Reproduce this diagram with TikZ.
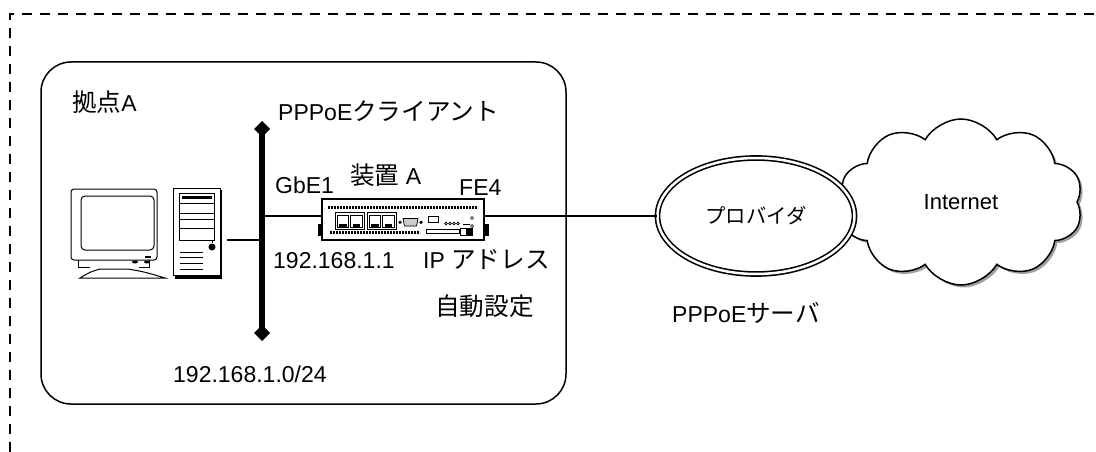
\documentclass[tikz,border=0pt]{standalone}
\usepackage{fontspec}
\setmainfont{Liberation Sans}
\newfontfamily\jp[Scale=1.07]{Noto Sans CJK JP}
\usetikzlibrary{arrows.meta,shapes.geometric,shapes.symbols,shadows}
\begin{document}
\begin{tikzpicture}[x=1pt,y=-1pt,
  lbl/.style={anchor=base west, inner sep=0pt, font=\fontsize{23}{27}\selectfont},
  outerframe/.style={line width=1.3pt, dash pattern=on 10pt off 8pt},
  site/.style={draw, line width=1.5pt, rounded corners=30pt},
  wire/.style={line width=1.3pt},
  lanbus/.style={line width=6pt, {Diamond[length=16pt,width=16pt]}-{Diamond[length=16pt,width=16pt]}},
  part/.style={line width=1pt},
  thinpart/.style={line width=0.7pt},
  dotrow/.style={line width=3.5pt, dash pattern=on 2pt off 1pt},
]
\useasboundingbox (0,0) rectangle (1096,452);

% outer dashed frame (only top and left edges fall inside the page)
\draw[outerframe] (10,452) -- (10,14) -- (1096,14);

% site A
\draw[site] (41,62) rectangle (566,404);
\node[lbl] (siteA) at (72,112) {{\jp 拠点}A};

% LAN segment
\coordinate (bustop) at (262,121);
\coordinate (busbot) at (262,341);
\coordinate (buspc) at (262,240);
\coordinate (busdev) at (262,216);
\draw[lanbus] (bustop) -- (busbot);

% PC: monitor
\begin{scope}[part]
  \draw[rounded corners=3pt] (71,189) rectangle (157,260);
  \draw[rounded corners=4pt] (81,196) rectangle (154,250);
  \draw (78,260) -- (78,267) -- (90,267);
  \draw (149,260) -- (149,267) -- (139,267);
  \draw (80,278) .. controls (90,272) .. (100,269) -- (128,269) .. controls (145,272) .. (165,278) -- cycle;
  \fill (145,256) rectangle (151,258);
  \fill (135,262) ellipse (3pt and 1.5pt);
  \fill (147,262) ellipse (3pt and 1.5pt);
\end{scope}
% PC: tower
\begin{scope}[part]
  \draw (173,188) rectangle (220,275);
  \fill (175,275) rectangle (222,279);
  \fill (220,190) rectangle (222,279);
  \draw (179,193) rectangle (214,240);
  \fill (182,196) rectangle (212,199);
  \draw (179,203) -- (214,203);
  \draw (179,213) -- (214,213);
  \draw (179,219) -- (214,219);
  \draw (179,228) -- (214,228);
  \fill (212,247) circle (3.5pt);
  \draw (212,241) -- (212,243);
  \foreach \vy in {252,257,263,269} \draw (180,\vy) -- (203,\vy);
\end{scope}
\node[inner sep=0pt, minimum width=157pt, minimum height=91pt] (pc) at (146,233.5) {};
\coordinate (pcport) at (227,240);
\draw[wire] (pcport) -- (buspc);

% device A
\node[draw, line width=2pt, inner sep=0pt, minimum width=162pt, minimum height=41pt] (dev) at (403,219.5) {};
\begin{scope}
  \fill (317.5,224) rectangle (322,236);
  \fill (484,224) rectangle (488.5,236);
  \draw[dotrow] (328,207.5) -- (478,207.5);
  \draw[dotrow] (330,232.5) -- (420,232.5);
  % two dual RJ45 blocks
  \foreach \bx in {335,367} {
    \draw[thinpart] (\bx,212.5) rectangle (\bx+29,229);
    \draw[thinpart] (\bx+2,215.5) rectangle (\bx+13.5,227.5);
    \draw[thinpart] (\bx+15.5,215.5) rectangle (\bx+27,227.5);
    \fill (\bx+4,224) rectangle (\bx+11.5,228);
    \fill (\bx+17.5,224) rectangle (\bx+25,228);
  }
  % serial port
  \draw[thinpart, fill=gray!40] (403,218.5) -- (418,218.5) -- (416.5,226) -- (404.5,226) -- cycle;
  \fill (400,222.3) circle (1.8pt);
  \fill (421,222.3) circle (1.8pt);
  % status area
  \draw[thinpart] (428,216) rectangle (438,222);
  \foreach \lx in {446,450,454,458} \draw[thinpart] (\lx,223.5) circle (1.3pt);
  \draw[thinpart] (426,229) rectangle (459,233);
  \draw[thinpart] (460,228) rectangle (472,235);
  \fill (466,228) rectangle (472,235);
  \draw[thinpart] (472,218) circle (1.5pt);
  \draw[thinpart] (472,226) circle (1.5pt);
  \draw[thinpart] (463,224) -- (470,224);
\end{scope}
\draw[wire] (busdev) -- (busdev -| dev.west);

% labels around the device
\node[lbl] (client) at (278,121) {PPPoE{\jp クライアント}};
\node[lbl] (gbe) at (275,193) {GbE1};
\node[lbl] (devname) at (350,184) {{\jp 装置} A};
\node[lbl] (fe) at (459,195) {FE4};
\node[lbl] (lanip) at (273,268) {192.168.1.1};
\node[lbl] (wanip) at (423,268) {IP {\jp アドレス}};
\node[lbl] (auto) at (435,315) {{\jp 自動設定}};
\node[lbl] (subnet) at (173,382) {192.168.1.0/24};

% Internet cloud
\node[cloud, cloud puffs=10, cloud puff arc=120, aspect=1.5, draw, line width=1.5pt, fill=white,
      minimum width=244pt, minimum height=166pt, inner sep=0pt,
      drop shadow={shadow xshift=2.5pt, shadow yshift=-2.5pt, fill=gray!75, opacity=1},
      font=\fontsize{22}{26}\selectfont] (inet) at (961,202) {Internet};

% provider
\node[ellipse, draw, fill=white, line width=1.6pt, double, double distance=2.5pt,
      minimum width=197pt, minimum height=116pt, inner sep=0pt,
      font=\fontsize{19}{22}\selectfont\jp] (isp) at (756,216) {プロバイダ};
\draw[wire] (dev.east |- isp.west) -- (isp.west);
\node[lbl] (server) at (672,322) {PPPoE{\jp サーバ}};

\end{tikzpicture}
\end{document}
